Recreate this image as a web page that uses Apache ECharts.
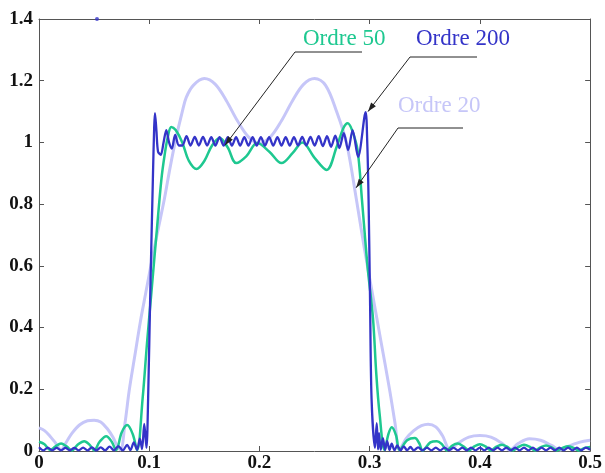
<!DOCTYPE html>
<html><head><meta charset="utf-8">
<script src="https://cdn.jsdelivr.net/npm/echarts@6.0.0/dist/echarts.min.js"></script>
<style>html,body{margin:0;padding:0;background:#fff}#c{width:605px;height:473px}</style>
</head><body><div id="c"></div>
<script>
// ---- data ----
const seriesNames = ['Ordre 20', 'Ordre 50', 'Ordre 200'];

const order20 = [
  [0,0.075],[0.005,0.066],[0.01,0.048],[0.015,0.026],[0.02,0.004],[0.025,0.03],[0.03,0.058],
  [0.037,0.085],[0.044,0.098],[0.05,0.1],[0.056,0.094],[0.062,0.072],[0.067,0.045],[0.071,0.016],
  [0.074,0.004],[0.078,0.09],[0.082,0.2],[0.087,0.31],[0.092,0.42],[0.097,0.515],[0.102,0.61],
  [0.107,0.7],[0.1136,0.814],[0.119,0.92],[0.1245,1.017],[0.13,1.1],[0.1336,1.146],[0.14,1.185],
  [0.15,1.207],[0.16,1.188],[0.17,1.135],[0.18,1.07],[0.19,1.018],[0.2,0.997],[0.21,1.018],
  [0.22,1.07],[0.23,1.135],[0.24,1.188],[0.25,1.207],[0.26,1.185],[0.27,1.1],[0.279,0.998],
  [0.288,0.814],[0.295,0.66],[0.303,0.5],[0.31,0.36],[0.318,0.2],[0.323,0.09],[0.327,0.004],
  [0.333,0.04],[0.34,0.066],[0.347,0.082],[0.353,0.087],[0.36,0.078],[0.366,0.05],[0.373,0.004],
  [0.38,0.025],[0.39,0.045],[0.4,0.05],[0.41,0.045],[0.42,0.025],[0.427,0.003],[0.435,0.025],
  [0.445,0.04],[0.455,0.035],[0.465,0.018],[0.473,0.003],[0.48,0.015],[0.49,0.028],[0.5,0.035]
];

const order50 = [
  [0,0.03],[0.005,0.022],[0.01,0.003],[0.015,0.015],[0.02,0.024],[0.025,0.015],[0.03,0.002],
  [0.035,0.02],[0.041,0.032],[0.046,0.02],[0.05,0.002],[0.055,0.03],[0.061,0.048],[0.066,0.03],
  [0.07,0.003],[0.075,0.06],[0.08,0.084],[0.085,0.055],[0.089,0.003],[0.094,0.17],[0.098,0.35],
  [0.102,0.515],[0.107,0.72],[0.111,0.879],[0.114,0.96],[0.117,1.02],[0.12,1.05],[0.124,1.04],
  [0.13,1.0],[0.136,0.94],[0.143,0.914],[0.15,0.94],[0.157,0.99],[0.164,1.014],[0.171,0.985],
  [0.179,0.933],[0.188,0.955],[0.198,0.998],[0.209,0.97],[0.22,0.933],[0.23,0.965],[0.239,1.0],
  [0.25,0.95],[0.261,0.911],[0.27,0.985],[0.276,1.045],[0.28,1.062],[0.284,1.04],[0.289,0.975],
  [0.293,0.814],[0.298,0.6],[0.303,0.43],[0.306,0.25],[0.309,0.12],[0.3135,0.003],[0.317,0.055],
  [0.32,0.077],[0.324,0.05],[0.327,0.003],[0.334,0.035],[0.341,0.042],[0.345,0.025],[0.348,0.002],
  [0.355,0.028],[0.361,0.032],[0.366,0.02],[0.37,0.002],[0.375,0.018],[0.38,0.024],[0.385,0.015],
  [0.39,0.002],[0.395,0.015],[0.4,0.022],[0.405,0.015],[0.41,0.002],[0.415,0.014],[0.42,0.02],
  [0.425,0.013],[0.43,0.002],[0.435,0.013],[0.44,0.02],[0.445,0.014],[0.45,0.002],[0.455,0.012],
  [0.46,0.018],[0.465,0.012],[0.47,0.002],[0.475,0.01],[0.48,0.015],[0.485,0.01],[0.49,0.002],
  [0.495,0.01],[0.5,0.013]
];

const order200 = [
  [0,0.012],[0.004,0.002],[0.008,0.011],[0.012,0.002],[0.016,0.01],[0.02,0.002],[0.024,0.01],
  [0.028,0.002],[0.032,0.01],[0.036,0.002],[0.04,0.011],[0.044,0.002],[0.048,0.012],[0.052,0.002],
  [0.056,0.012],[0.06,0.002],[0.064,0.014],[0.068,0.002],[0.072,0.016],[0.076,0.002],[0.08,0.02],
  [0.083,0.003],[0.086,0.028],[0.089,0.004],[0.0915,0.04],[0.0935,0.006],[0.0955,0.088],
  [0.0975,0.01],[0.099,0.17],[0.101,0.52],[0.1033,0.88],[0.1045,1.05],[0.1052,1.095],[0.1065,1.04],
  [0.108,0.97],[0.1105,0.96],[0.113,1.0],[0.1155,1.04],[0.118,1.0],[0.1205,0.98],[0.1235,1.024],
  [0.127,0.99],[0.13,0.99],[0.1338,1.02],[0.1375,0.99],[0.1413,1.018],[0.145,0.99],[0.1488,1.018],
  [0.1525,0.99],[0.1563,1.017],[0.16,0.99],[0.1638,1.017],[0.1675,0.99],[0.1713,1.017],[0.175,0.99],
  [0.1788,1.017],[0.1825,0.99],[0.1863,1.017],[0.19,0.99],[0.1938,1.017],[0.1975,0.99],[0.2013,1.017],
  [0.205,0.99],[0.2088,1.017],[0.2125,0.99],[0.2163,1.017],[0.22,0.99],[0.2238,1.017],[0.2275,0.99],
  [0.2313,1.017],[0.235,0.99],[0.2388,1.018],[0.2425,0.99],[0.2463,1.018],[0.25,0.99],[0.2538,1.02],
  [0.2575,0.988],[0.2613,1.02],[0.265,0.986],[0.2688,1.022],[0.2725,0.982],[0.2765,1.03],
  [0.2805,0.975],[0.2845,1.04],[0.2895,0.953],[0.2963,1.098],[0.2978,1.0],[0.299,0.814],
  [0.3003,0.5],[0.3017,0.17],[0.3048,0.01],[0.3064,0.09],[0.3076,0.005],[0.3085,0.058],[0.31,0.004],
  [0.312,0.042],[0.314,0.003],[0.3158,0.032],[0.318,0.003],[0.32,0.024],[0.3225,0.002],[0.325,0.018],
  [0.328,0.002],[0.331,0.015],[0.334,0.002],[0.337,0.013],[0.34,0.002],[0.344,0.012],[0.348,0.002],
  [0.352,0.011],[0.356,0.002],[0.36,0.011],[0.364,0.002],[0.368,0.011],[0.372,0.002],[0.376,0.011],
  [0.38,0.002],[0.384,0.011],[0.388,0.002],[0.392,0.011],[0.396,0.002],[0.4,0.011],[0.404,0.002],
  [0.408,0.011],[0.412,0.002],[0.416,0.011],[0.42,0.002],[0.424,0.011],[0.428,0.002],[0.432,0.011],
  [0.436,0.002],[0.44,0.011],[0.444,0.002],[0.448,0.011],[0.452,0.002],[0.456,0.011],[0.46,0.002],
  [0.464,0.011],[0.468,0.002],[0.472,0.011],[0.476,0.002],[0.48,0.011],[0.484,0.002],[0.488,0.011],
  [0.492,0.002],[0.496,0.011],[0.5,0.004]
];

const strayDot = [[0.0526,1.4]];

// ---- style ----
const C20 = '#c6c6f8', C50 = '#1ec890', C200 = '#3434c8';
const axisColor = '#555';
const labelFont = {fontFamily:'Liberation Serif', fontWeight:'bold', fontSize:19, color:'#111'};

const chart = echarts.init(document.getElementById('c'), null, {renderer:'canvas'});
const commonX = {type:'value', min:0, max:0.5, interval:0.1, splitLine:{show:false},
  axisLine:{show:true, onZero:false, lineStyle:{color:axisColor, width:1}},
  axisTick:{show:true, inside:true, length:5, lineStyle:{color:axisColor}}};
const commonY = {type:'value', min:0, max:1.4, interval:0.2, splitLine:{show:false},
  axisLine:{show:true, onZero:false, lineStyle:{color:axisColor, width:1}},
  axisTick:{show:true, inside:true, length:5, lineStyle:{color:axisColor}}};

chart.setOption({
  animation:false,
  backgroundColor:'#fff',
  grid:{left:39, right:14, top:19, bottom:20, containLabel:false},
  xAxis:[
    Object.assign({}, commonX, {position:'bottom', axisLabel:Object.assign({margin:3}, labelFont)}),
    Object.assign({}, commonX, {position:'top', axisLabel:{show:false}})
  ],
  yAxis:[
    Object.assign({}, commonY, {position:'left', axisLabel:Object.assign({margin:6, padding:[0,0,9,0]}, labelFont)}),
    Object.assign({}, commonY, {position:'right', axisLabel:{show:false}})
  ],
  series:[
    {name:seriesNames[0], type:'line', data:order20, showSymbol:false, smooth:0.35,
     lineStyle:{color:C20, width:3}, z:2},
    {name:seriesNames[1], type:'line', data:order50, showSymbol:false, smooth:0.35,
     lineStyle:{color:C50, width:2.5}, z:3},
    {name:seriesNames[2], type:'line', data:order200, showSymbol:false, smooth:0.3,
     lineStyle:{color:C200, width:2.3}, z:4},
    {type:'scatter', data:strayDot, symbolSize:4, itemStyle:{color:C200}, z:5, clip:false}
  ]
});

// ---- annotations: label, leader line and arrow to a data point ----
const annotations = [
  {text:seriesNames[1], color:C50, textAt:[303,39], from:[362,52], elbow:[295,52], tip:[0.1688,0.991]},
  {text:seriesNames[2], color:C200, textAt:[416,39], from:[477,57], elbow:[410,57], tip:[0.2985,1.10]},
  {text:seriesNames[0], color:C20, textAt:[398,106], from:[463,128], elbow:[398,128], tip:[0.2877,0.853]}
];
const graphics = [];
annotations.forEach(a => {
  const t = chart.convertToPixel({xAxisIndex:0, yAxisIndex:0}, a.tip);
  graphics.push({type:'text', x:a.textAt[0], y:a.textAt[1], z:10,
    style:{text:a.text, fill:a.color, font:'23px "Liberation Serif"', textVerticalAlign:'middle'}});
  graphics.push({type:'polyline', z:10, shape:{points:[a.from, a.elbow, t]},
    style:{stroke:'#222', lineWidth:1, fill:null}});
  const dx = t[0]-a.elbow[0], dy = t[1]-a.elbow[1], L = Math.hypot(dx,dy);
  const ux = dx/L, uy = dy/L, len = 9, hw = 3;
  const bx = t[0]-ux*len, by = t[1]-uy*len;
  graphics.push({type:'polygon', z:10, shape:{points:[t,[bx-uy*hw, by+ux*hw],[bx+uy*hw, by-ux*hw]]},
    style:{fill:'#222'}});
});
chart.setOption({graphic:graphics});
</script>
</body></html>
